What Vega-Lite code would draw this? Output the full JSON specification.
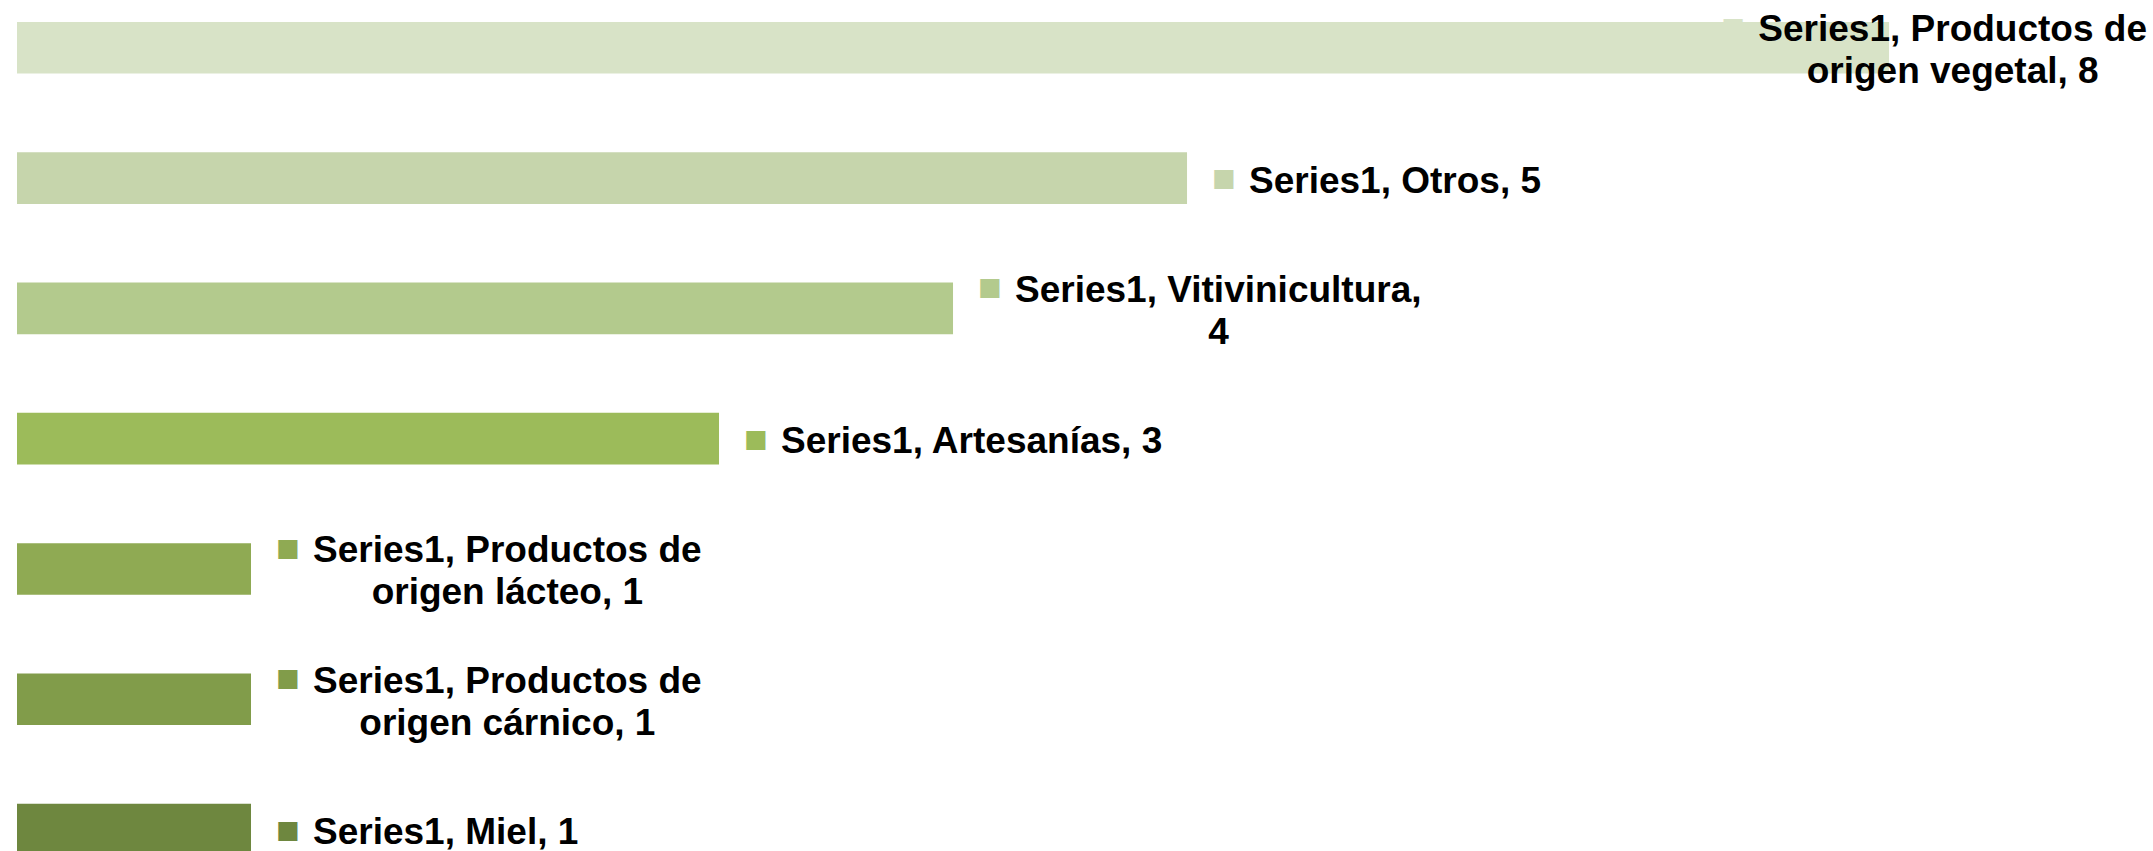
{
  "$schema": "https://vega.github.io/schema/vega-lite/v6.json",
  "autosize": {"type": "none"},
  "padding": {"left": 17, "right": 0, "top": 0, "bottom": 0},
  "width": 2136,
  "height": 851,
  "background": "#ffffff",
  "config": {"view": {"stroke": null}},
  "data": {
    "values": [
      {"cat": "Productos de origen vegetal", "value": 8, "line1": "Series1, Productos de", "line2": "origen vegetal, 8"},
      {"cat": "Otros", "value": 5, "line1": "Series1, Otros, 5", "line2": ""},
      {"cat": "Vitivinicultura", "value": 4, "line1": "Series1, Vitivinicultura,", "line2": "4"},
      {"cat": "Artesanías", "value": 3, "line1": "Series1, Artesanías, 3", "line2": ""},
      {"cat": "Productos de origen lácteo", "value": 1, "line1": "Series1, Productos de", "line2": "origen lácteo, 1"},
      {"cat": "Productos de origen cárnico", "value": 1, "line1": "Series1, Productos de", "line2": "origen cárnico, 1"},
      {"cat": "Miel", "value": 1, "line1": "Series1, Miel, 1", "line2": ""}
    ]
  },
  "encoding": {
    "y": {
      "field": "cat",
      "type": "nominal",
      "sort": null,
      "axis": null,
      "scale": {"range": [22, 855.3], "paddingInner": 0.604, "paddingOuter": 0}
    },
    "x": {
      "field": "value",
      "type": "quantitative",
      "axis": null,
      "scale": {"domain": [0, 9.128], "nice": false, "zero": true}
    },
    "color": {
      "field": "cat",
      "type": "nominal",
      "legend": null,
      "scale": {
        "domain": ["Productos de origen vegetal", "Otros", "Vitivinicultura", "Artesanías", "Productos de origen lácteo", "Productos de origen cárnico", "Miel"],
        "range": ["#D8E3C7", "#C6D5AC", "#B3CA8D", "#9CBB5A", "#8FAA53", "#819C4A", "#6E873F"]
      }
    }
  },
  "layer": [
    {
      "mark": {"type": "bar", "clip": true}
    },
    {
      "mark": {
        "type": "text",
        "text": "■",
        "font": "DejaVu Sans",
        "fontSize": 25,
        "align": "center",
        "baseline": "middle",
        "dx": {"expr": "min(62, 2130 - 37*(0.556*length(datum.line1) - 0.278*length(replace(datum.line1, regexp('[^il,. íj]','g'), '')) - 0.223*length(replace(datum.line1, regexp('[^tf]','g'), '')) - 0.167*length(replace(datum.line1, regexp('[^r]','g'), '')) + 0.055*length(replace(datum.line1, regexp('[^odungpbhq]','g'), '')) + 0.111*length(replace(datum.line1, regexp('[^SPV]','g'), '')) + 0.166*length(replace(datum.line1, regexp('[^A]','g'), '')) + 0.222*length(replace(datum.line1, regexp('[^O]','g'), '')) + 0.277*length(replace(datum.line1, regexp('[^M]','g'), ''))) - scale('x', datum.value)) - 25"},
        "dy": {"expr": "datum.line2 ? -21 : 0"}
      }
    },
    {
      "mark": {
        "type": "text",
        "align": "left",
        "baseline": "alphabetic",
        "font": "Liberation Sans",
        "fontWeight": "bold",
        "fontSize": 37,
        "dx": {"expr": "min(62, 2130 - 37*(0.556*length(datum.line1) - 0.278*length(replace(datum.line1, regexp('[^il,. íj]','g'), '')) - 0.223*length(replace(datum.line1, regexp('[^tf]','g'), '')) - 0.167*length(replace(datum.line1, regexp('[^r]','g'), '')) + 0.055*length(replace(datum.line1, regexp('[^odungpbhq]','g'), '')) + 0.111*length(replace(datum.line1, regexp('[^SPV]','g'), '')) + 0.166*length(replace(datum.line1, regexp('[^A]','g'), '')) + 0.222*length(replace(datum.line1, regexp('[^O]','g'), '')) + 0.277*length(replace(datum.line1, regexp('[^M]','g'), ''))) - scale('x', datum.value))"},
        "dy": {"expr": "datum.line2 ? -6.5 : 14.5"}
      },
      "encoding": {
        "text": {"field": "line1", "type": "nominal"},
        "color": {"value": "#000000"}
      }
    },
    {
      "transform": [{"filter": "datum.line2 != ''"}],
      "mark": {
        "type": "text",
        "align": "center",
        "baseline": "alphabetic",
        "font": "Liberation Sans",
        "fontWeight": "bold",
        "fontSize": 37,
        "dx": {"expr": "min(62, 2130 - 37*(0.556*length(datum.line1) - 0.278*length(replace(datum.line1, regexp('[^il,. íj]','g'), '')) - 0.223*length(replace(datum.line1, regexp('[^tf]','g'), '')) - 0.167*length(replace(datum.line1, regexp('[^r]','g'), '')) + 0.055*length(replace(datum.line1, regexp('[^odungpbhq]','g'), '')) + 0.111*length(replace(datum.line1, regexp('[^SPV]','g'), '')) + 0.166*length(replace(datum.line1, regexp('[^A]','g'), '')) + 0.222*length(replace(datum.line1, regexp('[^O]','g'), '')) + 0.277*length(replace(datum.line1, regexp('[^M]','g'), ''))) - scale('x', datum.value)) + 18.5*(0.556*length(datum.line1) - 0.278*length(replace(datum.line1, regexp('[^il,. íj]','g'), '')) - 0.223*length(replace(datum.line1, regexp('[^tf]','g'), '')) - 0.167*length(replace(datum.line1, regexp('[^r]','g'), '')) + 0.055*length(replace(datum.line1, regexp('[^odungpbhq]','g'), '')) + 0.111*length(replace(datum.line1, regexp('[^SPV]','g'), '')) + 0.166*length(replace(datum.line1, regexp('[^A]','g'), '')) + 0.222*length(replace(datum.line1, regexp('[^O]','g'), '')) + 0.277*length(replace(datum.line1, regexp('[^M]','g'), '')))"},
        "dy": 35.5
      },
      "encoding": {
        "text": {"field": "line2", "type": "nominal"},
        "color": {"value": "#000000"}
      }
    }
  ]
}
